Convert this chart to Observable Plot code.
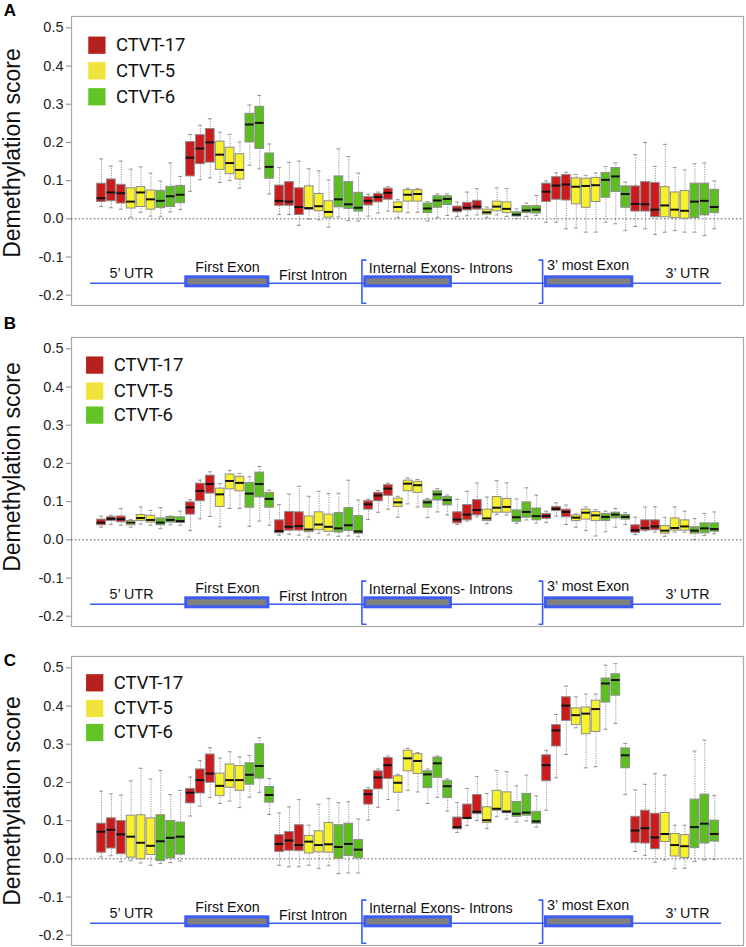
<!DOCTYPE html>
<html><head><meta charset="utf-8">
<script src="https://cdn.jsdelivr.net/npm/d3@7"></script>
<script src="https://cdn.jsdelivr.net/npm/@observablehq/plot@0.6"></script>
<style>
body{margin:0;background:#fff;}
#root{position:relative;width:746px;height:947px;overflow:hidden;background:#fff;}
.panel{position:absolute;left:0;}
</style></head><body><div id="root"></div>
<script>
// ---- categories ----
const samples = ["CTVT-17", "CTVT-5", "CTVT-6"];
const boxColors = ["#cc1b1d", "#f6f02d", "#5dbf1f"];
const legendColors = ["#b5221e", "#f0e43c", "#63c425"];
const regions = ["5' UTR", "First Exon", "First Intron", "Internal Exon", "Internal Intron", "3' most Exon", "3' UTR"];
const yTicks = [-0.2, -0.1, 0.0, 0.1, 0.2, 0.3, 0.4, 0.5];

// ---- Panel A values (63 boxes: 7 regions x 3 samples x 3) ----
const A_hi = [0.157,0.138,0.151,0.130,0.136,0.120,0.099,0.146,0.111, 0.221,0.245,0.262,0.227,0.221,0.201,0.298,0.323,0.196, 0.134,0.148,0.151,0.131,0.125,0.102,0.183,0.163,0.120, 0.064,0.070,0.084,0.050,0.080,0.079,0.045,0.065,0.065, 0.044,0.070,0.079,0.031,0.081,0.079,0.026,0.041,0.061, 0.099,0.120,0.122,0.116,0.114,0.120,0.137,0.146,0.096, 0.168,0.200,0.137,0.195,0.134,0.128,0.144,0.146,0.099];
const A_q3 = [0.092,0.103,0.089,0.080,0.083,0.074,0.073,0.084,0.086, 0.201,0.219,0.235,0.202,0.186,0.169,0.275,0.293,0.171, 0.087,0.096,0.080,0.085,0.065,0.046,0.111,0.096,0.068, 0.057,0.065,0.079,0.043,0.075,0.075,0.040,0.059,0.059, 0.032,0.042,0.047,0.024,0.045,0.043,0.017,0.033,0.033, 0.092,0.109,0.115,0.106,0.105,0.107,0.120,0.133,0.085, 0.085,0.096,0.094,0.083,0.069,0.073,0.092,0.092,0.076];
const A_med = [0.054,0.069,0.067,0.045,0.069,0.051,0.047,0.059,0.063, 0.160,0.184,0.200,0.168,0.146,0.128,0.247,0.251,0.136, 0.047,0.045,0.031,0.028,0.033,0.018,0.051,0.038,0.029, 0.047,0.057,0.068,0.031,0.063,0.065,0.027,0.048,0.052, 0.024,0.029,0.032,0.017,0.032,0.026,0.011,0.022,0.024, 0.071,0.087,0.090,0.084,0.086,0.088,0.102,0.111,0.065, 0.039,0.038,0.024,0.035,0.024,0.021,0.045,0.047,0.031];
const A_q1 = [0.044,0.046,0.040,0.027,0.031,0.024,0.028,0.031,0.041, 0.111,0.143,0.147,0.128,0.117,0.103,0.200,0.183,0.105, 0.034,0.034,0.010,0.024,0.020,0.003,0.030,0.026,0.019, 0.035,0.043,0.050,0.017,0.045,0.045,0.015,0.029,0.036, 0.017,0.022,0.024,0.011,0.020,0.015,0.006,0.015,0.014, 0.044,0.050,0.048,0.038,0.029,0.044,0.055,0.070,0.029, 0.019,0.019,0.004,0.004,0.002,0.000,0.002,0.009,0.015];
const A_lo = [0.032,0.029,0.025,0.004,0.017,0.007,0.005,0.018,0.024, 0.072,0.102,0.107,0.095,0.100,0.080,0.140,0.131,0.065, 0.011,0.011,-0.017,-0.001,-0.003,-0.022,0.005,-0.005,-0.006, 0.007,0.015,0.020,0.003,0.016,0.017,-0.006,0.003,0.009, 0.006,0.008,0.010,0.003,0.010,0.006,0.000,0.006,0.009, -0.009,-0.009,-0.026,-0.024,-0.035,-0.035,-0.009,-0.013,-0.031, -0.020,-0.026,-0.041,-0.035,-0.031,-0.035,-0.035,-0.044,-0.026];

// ---- Panel B values ----
const B_hi = [0.062,0.064,0.082,0.053,0.086,0.077,0.084,0.062,0.075, 0.105,0.156,0.178,0.147,0.182,0.174,0.165,0.192,0.130, 0.092,0.120,0.140,0.114,0.127,0.121,0.122,0.156,0.104, 0.106,0.129,0.148,0.114,0.162,0.158,0.108,0.134,0.117, 0.106,0.127,0.149,0.112,0.155,0.149,0.107,0.136,0.117, 0.075,0.097,0.091,0.068,0.086,0.079,0.075,0.082,0.071, 0.059,0.086,0.086,0.059,0.086,0.075,0.056,0.069,0.073];
const B_q3 = [0.053,0.059,0.061,0.049,0.065,0.063,0.056,0.060,0.059, 0.098,0.147,0.168,0.134,0.171,0.165,0.149,0.176,0.123, 0.051,0.073,0.072,0.061,0.072,0.066,0.070,0.083,0.062, 0.101,0.123,0.143,0.108,0.155,0.152,0.103,0.127,0.112, 0.072,0.091,0.104,0.079,0.112,0.107,0.077,0.098,0.082, 0.068,0.086,0.079,0.064,0.079,0.073,0.068,0.071,0.065, 0.038,0.051,0.051,0.036,0.056,0.051,0.033,0.043,0.043];
const B_med = [0.045,0.055,0.054,0.045,0.057,0.052,0.045,0.052,0.049, 0.085,0.128,0.146,0.119,0.154,0.149,0.121,0.146,0.107, 0.023,0.034,0.036,0.027,0.040,0.034,0.030,0.038,0.022, 0.093,0.116,0.134,0.098,0.147,0.143,0.098,0.119,0.104, 0.053,0.066,0.078,0.056,0.084,0.086,0.059,0.073,0.062, 0.062,0.081,0.073,0.058,0.071,0.064,0.060,0.066,0.060, 0.025,0.031,0.035,0.024,0.031,0.035,0.024,0.030,0.028];
const B_q1 = [0.038,0.049,0.046,0.038,0.049,0.045,0.038,0.045,0.044, 0.066,0.101,0.121,0.086,0.132,0.127,0.084,0.111,0.084, 0.017,0.024,0.024,0.020,0.025,0.021,0.019,0.023,0.016, 0.079,0.101,0.115,0.086,0.127,0.123,0.084,0.103,0.090, 0.043,0.051,0.064,0.049,0.071,0.071,0.047,0.058,0.051, 0.055,0.075,0.059,0.049,0.053,0.049,0.049,0.056,0.053, 0.018,0.024,0.025,0.016,0.024,0.024,0.016,0.017,0.021];
const B_lo = [0.033,0.040,0.038,0.033,0.041,0.038,0.029,0.039,0.038, 0.024,0.055,0.061,0.034,0.082,0.082,0.035,0.049,0.038, 0.012,0.014,0.012,0.007,0.017,0.013,0.009,0.010,0.008, 0.053,0.072,0.080,0.059,0.094,0.086,0.058,0.073,0.065, 0.040,0.049,0.060,0.042,0.066,0.065,0.043,0.052,0.044, 0.045,0.062,0.040,0.033,0.024,0.010,0.021,0.033,0.040, 0.014,0.023,0.020,0.009,0.020,0.020,0.000,0.011,0.016];

// ---- Panel C values ----
const C_hi = [0.177,0.170,0.167,0.204,0.237,0.209,0.231,0.168,0.179, 0.214,0.257,0.291,0.264,0.280,0.267,0.270,0.317,0.210, 0.120,0.136,0.155,0.088,0.143,0.158,0.147,0.149,0.104, 0.186,0.235,0.269,0.221,0.289,0.278,0.235,0.269,0.209, 0.147,0.184,0.215,0.171,0.231,0.228,0.191,0.219,0.165, 0.284,0.378,0.452,0.424,0.431,0.431,0.507,0.511,0.302, 0.180,0.195,0.223,0.219,0.088,0.088,0.282,0.311,0.166];
const C_q3 = [0.092,0.106,0.099,0.113,0.114,0.106,0.114,0.099,0.095, 0.183,0.234,0.273,0.223,0.247,0.243,0.250,0.300,0.188, 0.062,0.070,0.088,0.060,0.072,0.094,0.088,0.092,0.049, 0.180,0.229,0.264,0.216,0.283,0.274,0.229,0.265,0.204, 0.108,0.142,0.167,0.135,0.178,0.174,0.149,0.170,0.123, 0.271,0.350,0.423,0.394,0.396,0.414,0.472,0.483,0.289, 0.110,0.126,0.118,0.120,0.065,0.062,0.155,0.168,0.100];
const C_med = [0.071,0.076,0.064,0.058,0.042,0.034,0.046,0.055,0.058, 0.173,0.206,0.223,0.191,0.206,0.206,0.220,0.243,0.167, 0.039,0.048,0.036,0.045,0.036,0.038,0.031,0.039,0.024, 0.169,0.213,0.245,0.199,0.263,0.256,0.221,0.250,0.190, 0.083,0.107,0.123,0.101,0.131,0.124,0.118,0.121,0.098, 0.245,0.336,0.401,0.376,0.380,0.392,0.459,0.468,0.271, 0.074,0.080,0.056,0.065,0.036,0.033,0.083,0.092,0.065];
const C_q1 = [0.016,0.027,0.012,0.003,-0.001,0.010,-0.006,0.001,0.011, 0.145,0.171,0.199,0.164,0.186,0.178,0.194,0.210,0.147, 0.018,0.021,0.020,0.014,0.017,0.016,0.000,0.007,0.001, 0.142,0.182,0.209,0.173,0.229,0.222,0.185,0.212,0.159, 0.077,0.104,0.117,0.094,0.126,0.120,0.110,0.113,0.092, 0.203,0.294,0.361,0.350,0.326,0.332,0.409,0.427,0.237, 0.041,0.040,0.025,0.044,0.006,0.002,0.028,0.040,0.045];
const C_lo = [0.005,0.008,-0.008,-0.005,-0.011,-0.017,-0.012,-0.010,-0.006, 0.112,0.138,0.160,0.145,0.151,0.134,0.161,0.174,0.116, -0.017,-0.021,-0.021,-0.017,-0.025,-0.018,-0.039,-0.037,-0.037, 0.101,0.135,0.155,0.127,0.179,0.175,0.145,0.161,0.125, 0.069,0.087,0.100,0.079,0.110,0.104,0.096,0.099,0.083, 0.127,0.212,0.273,0.343,0.238,0.241,0.339,0.354,0.168, 0.019,0.009,-0.009,-0.003,-0.026,-0.025,-0.007,-0.003,-0.002];

// ---- gene model annotation (x in box-index units, y in score units) ----
const geneSpan = [-1.11, 62.69];
const geneY = -0.1686;
const exonStart = [8.57, 26.67, 44.94];
const exonEnd = [16.87, 35.33, 53.67];
const exonTop = -0.1531, exonBottom = -0.1767;
const geneLabelText = ["5\u2019 UTR", "First Exon", "First Intron", "Internal Exons- Introns", "3\u2019 most Exon", "3\u2019 UTR"];
const geneLabelX = [3.03, 12.74, 21.4, 34.3, 49.2, 59.25];
const geneLabelY = [-0.143, -0.127, -0.148, -0.131, -0.123, -0.144];
const bracketX = [26.33, 44.6];
const bracketHook = [0.4, -0.35];
const bracketTop = -0.108, bracketBottom = -0.221;

// ---- panel layout ----
const panelNames = ["A", "B", "C"];
const panelValues = [
  [A_lo, A_q1, A_med, A_q3, A_hi],
  [B_lo, B_q1, B_med, B_q3, B_hi],
  [C_lo, C_q1, C_med, C_q3, C_hi]
];
const panelTop = [0, 320.7, 639.7];
const panelHeight = [320, 320, 307.3];
const letterDy = [-1, -9, 9.3];
const ylabelDy = [-8, -15, 0];
const legendDx = [25.4, 23.2, 23.2];
const legendDy = [[28.7, 54.3, 80.3], [27.6, 53.6, 77.6], [26.3, 52, 76]];

const blue = "#3d5cf5";
const font = "'Liberation Sans', Arial, sans-serif";
const legendFont = "Roboto, 'Liberation Sans', sans-serif";

const root = document.getElementById("root");

panelNames.forEach((name, p) => {
  const [lo, q1, med, q3, hi] = panelValues[p];
  const rows = lo.map((_, i) => ({
    i,
    region: regions[Math.floor(i / 9)],
    sample: samples[Math.floor((i % 9) / 3)],
    lo: lo[i], q1: q1[i], med: med[i], q3: q3[i], hi: hi[i]
  }));
  const exons = exonStart.map((s, k) => ({x1: s, x2: exonEnd[k]}));
  const bracketPts = [];
  bracketX.forEach((bx, k) => {
    const h = bracketHook[k];
    bracketPts.push({id: k, x: bx + h, y: bracketTop}, {id: k, x: bx, y: bracketTop},
                    {id: k, x: bx, y: bracketBottom}, {id: k, x: bx + h, y: bracketBottom});
  });
  const labels = geneLabelText.map((t, k) => ({t, x: geneLabelX[k], y: geneLabelY[k]}));
  const hw = 0.44, cap = 0.2;

  const legendMarks = samples.flatMap((s, k) => [
    Plot.dot([s], {frameAnchor: "top-left", dx: legendDx[p], dy: legendDy[p][k], symbol: "square", r: 9.76, fill: legendColors[k], stroke: "none"}),
    Plot.text([s], {frameAnchor: "top-left", dx: legendDx[p] + 19, dy: legendDy[p][k], text: d => d, textAnchor: "start", lineAnchor: "middle", fontSize: 18.5, fontFamily: legendFont, fill: "#111"})
  ]);

  const chart = Plot.plot({
    width: 746,
    height: panelHeight[p],
    marginTop: 16,
    marginBottom: panelHeight[p] - 305,
    marginLeft: 71,
    marginRight: 3,
    style: {fontFamily: font, background: "transparent", overflow: "visible"},
    x: {domain: [-3.033, 64.91], axis: null},
    y: {domain: [-0.2269, 0.5296], axis: null},
    color: {domain: samples, range: boxColors},
    marks: [
      Plot.frame({stroke: "#a9a9a9", strokeWidth: 1.2}),
      Plot.axisY(yTicks, {tickSize: 5, tickPadding: 3, tickFormat: d => d.toFixed(1), fontSize: 14.5, stroke: "#888", fill: "#222", label: null}),
      Plot.ruleY([0], {stroke: "#555", strokeDasharray: "1.6,2.2", strokeWidth: 1}),
      // whiskers
      Plot.ruleX(rows, {x: "i", y1: "lo", y2: "hi", stroke: "#8a8a8a", strokeWidth: 0.9, strokeDasharray: "1.2,1.2"}),
      Plot.ruleY(rows, {y: "hi", x1: d => d.i - cap, x2: d => d.i + cap, stroke: "#8a8a8a", strokeWidth: 0.9}),
      Plot.ruleY(rows, {y: "lo", x1: d => d.i - cap, x2: d => d.i + cap, stroke: "#8a8a8a", strokeWidth: 0.9}),
      // boxes
      Plot.rect(rows, {x1: d => d.i - hw, x2: d => d.i + hw, y1: "q1", y2: "q3", fill: "sample", stroke: "#8c8c8c", strokeWidth: 1}),
      Plot.ruleY(rows, {y: "med", x1: d => d.i - hw, x2: d => d.i + hw, stroke: "#111", strokeWidth: 2}),
      // gene model
      Plot.ruleY([geneY], {x1: geneSpan[0], x2: geneSpan[1], stroke: blue, strokeWidth: 1.6}),
      Plot.rect(exons, {x1: "x1", x2: "x2", y1: exonTop, y2: exonBottom, fill: "#808080", stroke: blue, strokeWidth: 3}),
      Plot.line(bracketPts, {x: "x", y: "y", z: "id", stroke: blue, strokeWidth: 1.6}),
      Plot.text(labels, {x: "x", y: "y", text: "t", fontSize: 14.3, fill: "#111", lineAnchor: "middle"}),
      // legend
      ...legendMarks,
      // y label & panel letter
      Plot.text(["Demethylation score"], {frameAnchor: "left", dx: -58.4, dy: ylabelDy[p], rotate: -90, text: d => d, fontSize: 23, textAnchor: "middle", lineAnchor: "middle", fill: "#111"}),
      Plot.text([name], {frameAnchor: "top-left", dx: -67.7, dy: letterDy[p], text: d => d, fontSize: 17, fontWeight: "bold", textAnchor: "start", lineAnchor: "bottom", fill: "#000"})
    ]
  });
  const div = document.createElement("div");
  div.className = "panel";
  div.style.top = panelTop[p] + "px";
  div.appendChild(chart);
  root.appendChild(div);
});
</script>
</body></html>
